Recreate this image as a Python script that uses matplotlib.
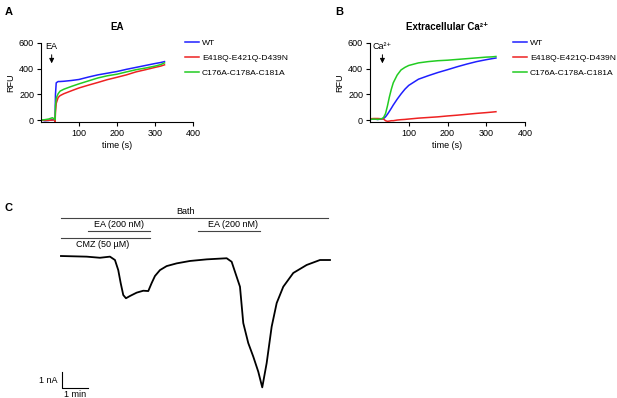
import matplotlib
matplotlib.use('Agg')
import matplotlib.pyplot as plt

plt.rcParams['font.family'] = ['Liberation Sans', 'DejaVu Sans']
plt.rcParams['font.size'] = 6.5

# ---------------------------------------------------------------------------
# Panel A: EA response (RFU vs time)
t_a = [0, 10, 20, 30, 35, 37, 38, 40, 45, 50, 60, 80, 100, 125, 150, 175,
       200, 225, 250, 275, 300, 315, 325]
wt_a = [0, -5, -3, 2, 3, 5, 200, 290, 300, 300, 302, 308, 316, 335, 352, 365,
        378, 395, 410, 425, 440, 448, 455]
eeq_a = [0, -3, -2, 0, 2, -15, 60, 130, 175, 190, 205, 228, 250, 272, 293, 315,
         333, 352, 375, 392, 410, 420, 430]
ccc_a = [0, 3, 8, 18, 8, 3, 110, 170, 205, 225, 240, 262, 282, 305, 328, 345,
         357, 375, 392, 405, 420, 432, 445]

# Panel B: extracellular Ca2+ response
t_b = [0, 10, 20, 30, 35, 40, 45, 50, 55, 60, 70, 80, 90, 100, 125, 150, 175,
       200, 225, 250, 275, 300, 315, 325]
wt_b = [5, 8, 5, 8, 12, 25, 45, 68, 92, 117, 162, 203, 240, 270, 318, 345, 370,
        392, 415, 436, 455, 470, 478, 483]
eeq_b = [10, 12, 12, 10, 8, -5, -10, -8, -5, -5, 0, 3, 5, 8, 15, 20, 25,
         32, 38, 45, 52, 58, 62, 65]
ccc_b = [5, 8, 5, 10, 20, 50, 110, 180, 240, 290, 350, 390, 410, 425, 445, 455,
         462, 466, 472, 478, 484, 490, 492, 495]

labels = ['WT', 'E418Q-E421Q-D439N', 'C176A-C178A-C181A']
colors = ['#1f1fff', '#ee2222', '#22cc22']

# Panel C: whole-cell current trace (time in s, current in nA)
t_c = [2.3, 61.6, 92.3, 115.4, 126.9, 134.5, 140.1, 146.1, 152.3, 161.5, 177.0,
       192.2, 203.8, 211.6, 219.2, 230.8, 246.2, 269.3, 300.0, 338.5, 384.7,
       396.2, 403.8, 415.4, 423.0, 434.5, 446.1, 457.6, 466.8, 477.0, 488.5,
       500.1, 515.3, 538.4, 569.3, 600.0, 623.1]
i_c = [0.0, -0.04, -0.11, -0.04, -0.25, -0.88, -1.69, -2.44, -2.64, -2.5, -2.29,
       -2.17, -2.19, -1.69, -1.25, -0.88, -0.63, -0.46, -0.31, -0.21, -0.14,
       -0.36, -0.98, -1.92, -4.19, -5.44, -6.29, -7.23, -8.21, -6.69, -4.42,
       -2.94, -1.92, -1.06, -0.56, -0.25, -0.25]

fig = plt.figure(figsize=(6.17, 3.98), dpi=100)


def style_rfu(ax):
    ax.set_xlim(0, 400)
    ax.set_ylim(-15, 600)
    ax.set_xticks([100, 200, 300, 400])
    ax.set_yticks([0, 200, 400, 600])
    for s in ['top', 'right']:
        ax.spines[s].set_visible(False)
    for s in ['left', 'bottom']:
        ax.spines[s].set_linewidth(0.8)
    ax.tick_params(direction='out', length=3, width=0.8, labelsize=6.5, pad=2)
    ax.set_xlabel('time (s)', fontsize=6.5, labelpad=2)
    ax.set_ylabel('RFU', fontsize=6.5, labelpad=3)


def add_legend(ax, x_px):
    ax.legend(loc='upper left', bbox_to_anchor=(x_px / 617, 1 - 39 / 398),
              bbox_transform=fig.transFigure, frameon=False, fontsize=6.1,
              handlelength=1.6, labelspacing=0.85, handletextpad=0.4,
              borderpad=0, borderaxespad=0)


axA = fig.add_axes([0.0665, 0.6935, 0.2463, 0.1985])
for y, c, lab in zip([wt_a, eeq_a, ccc_a], colors, labels):
    axA.plot(t_a, y, color=c, lw=1.1, label=lab)
style_rfu(axA)
axA.set_title('EA', fontsize=7, fontweight='bold', pad=9)
axA.annotate('', xy=(28, 420), xytext=(28, 530),
             arrowprops=dict(arrowstyle='-|>', lw=0.7, color='black', mutation_scale=7))
axA.text(28, 540, 'EA', ha='center', va='bottom', fontsize=6.5)
add_legend(axA, 185)

axB = fig.add_axes([0.5997, 0.6935, 0.2512, 0.1985])
for y, c, lab in zip([wt_b, eeq_b, ccc_b], colors, labels):
    axB.plot(t_b, y, color=c, lw=1.1, label=lab)
style_rfu(axB)
axB.set_title('Extracellular Ca²⁺', fontsize=7, fontweight='bold', pad=9)
axB.annotate('', xy=(32, 420), xytext=(32, 530),
             arrowprops=dict(arrowstyle='-|>', lw=0.7, color='black', mutation_scale=7))
axB.text(32, 540, 'Ca²⁺', ha='center', va='bottom', fontsize=6.5)
add_legend(axB, 513)

# Panel C
axC = fig.add_axes([0.0891, 0.0, 0.4538, 0.4849])
axC.set_xlim(-11.5, 634.6)
axC.set_ylim(-8.875, 3.1875)
axC.axis('off')
axC.plot(t_c, i_c, color='black', lw=1.3)

axC.plot([2.3, 618], [2.375, 2.375], color='#444444', lw=0.8)
axC.text(290, 2.52, 'Bath', ha='center', va='bottom', fontsize=6.5)
axC.plot([64.6, 207.7], [1.5625, 1.5625], color='#444444', lw=0.8)
axC.text(136, 1.7, 'EA (200 nM)', ha='center', va='bottom', fontsize=6.5)
axC.plot([318, 461], [1.5625, 1.5625], color='#444444', lw=0.8)
axC.text(400, 1.7, 'EA (200 nM)', ha='center', va='bottom', fontsize=6.5)
axC.plot([2.3, 207.7], [1.125, 1.125], color='#444444', lw=0.8)
axC.text(38, 0.97, 'CMZ (50 µM)', ha='left', va='top', fontsize=6.5)

# scale bars: 1 nA, 1 min
axC.plot([4.6, 4.6, 64.6], [-7.25, -8.25, -8.25], color='black', lw=0.8)
axC.text(-5, -7.75, '1 nA', ha='right', va='center', fontsize=6.5)
axC.text(34.6, -8.4, '1 min', ha='center', va='top', fontsize=6.5)

fig.text(0.008, 0.982, 'A', fontsize=8, fontweight='bold', va='top')
fig.text(0.543, 0.982, 'B', fontsize=8, fontweight='bold', va='top')
fig.text(0.008, 0.49, 'C', fontsize=8, fontweight='bold', va='top')

fig.savefig('out.png', dpi=100)
